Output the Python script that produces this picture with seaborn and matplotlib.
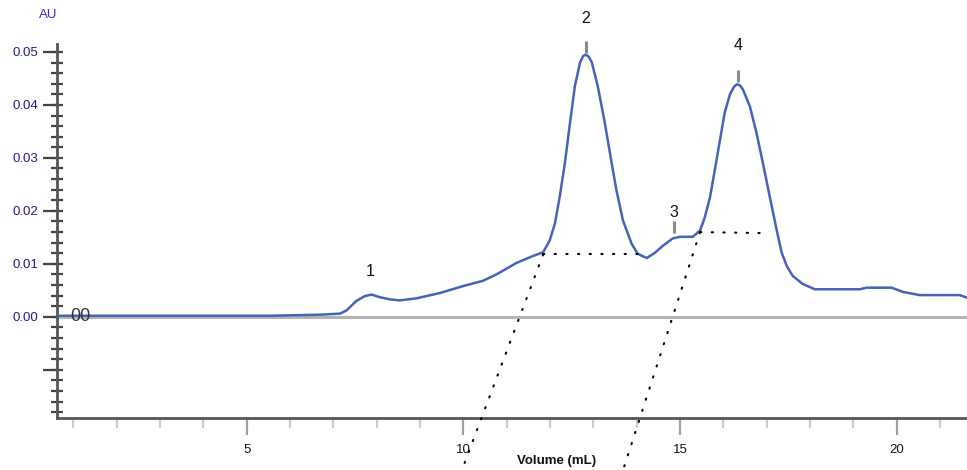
import numpy as np
import pandas as pd
import matplotlib
matplotlib.use("Agg")
import matplotlib.pyplot as plt
import seaborn as sns
from matplotlib.ticker import MultipleLocator, FixedLocator

# ---- data ----
volume_ml = [0.62, 2.0, 3.92, 5.5, 6.69, 7.15, 7.30, 7.53, 7.72, 7.88, 8.07, 8.30, 8.53,
             8.92, 9.46, 9.99, 10.45, 10.76, 11.23, 11.61, 11.84, 11.99, 12.11, 12.22,
             12.34, 12.46, 12.57, 12.69, 12.76, 12.82, 12.89, 12.96, 13.10, 13.26, 13.42,
             13.53, 13.68, 13.88, 14.02, 14.23, 14.42, 14.60, 14.83, 14.99, 15.29, 15.46,
             15.57, 15.69, 15.80, 15.92, 16.03, 16.15, 16.24, 16.31, 16.38, 16.45, 16.61,
             16.76, 16.91, 17.07, 17.23, 17.34, 17.46, 17.60, 17.83, 18.11, 19.15, 19.30,
             19.88, 20.14, 20.53, 21.46, 21.62]
absorbance = [0.0002, 0.0002, 0.0002, 0.0002, 0.0004, 0.0006, 0.0012, 0.0030, 0.0039,
              0.0042, 0.0037, 0.0033, 0.0031, 0.0035, 0.0045, 0.0058, 0.0068, 0.0080,
              0.0102, 0.0115, 0.0122, 0.0144, 0.0176, 0.0226, 0.0290, 0.0367, 0.0435,
              0.0480, 0.0492, 0.0495, 0.0491, 0.0481, 0.0435, 0.0367, 0.0290, 0.0239,
              0.0182, 0.0138, 0.0119, 0.0111, 0.0121, 0.0134, 0.0148, 0.0151, 0.0151,
              0.0163, 0.0188, 0.0226, 0.0277, 0.0334, 0.0386, 0.0420, 0.0434, 0.0439,
              0.0437, 0.0429, 0.0397, 0.0348, 0.0290, 0.0226, 0.0163, 0.0122, 0.0096,
              0.0077, 0.0062, 0.0052, 0.0052, 0.0055, 0.0055, 0.0047, 0.0041, 0.0041,
              0.0036]

peak_labels = ["1", "2", "3", "4"]
peak_x = [7.85, 12.82, 14.85, 16.33]
label_y = [0.0085, 0.0563, 0.0196, 0.0512]
mark_x = [12.82, 14.85, 16.33]
mark_y = [0.0510, 0.0170, 0.0454]

# integration guide lines (dotted)
guide_h = [([11.84, 14.07], [0.0118, 0.0118]), ([15.46, 16.99], [0.0160, 0.0158])]
guide_d = [([11.84, 9.96], [0.0118, -0.0290]), ([15.46, 13.68], [0.0160, -0.0290])]

x_major = [5, 10, 15, 20]
x_minor = [1, 2, 3, 4, 6, 7, 8, 9, 11, 12, 13, 14, 16, 17, 18, 19, 21]
y_major = [-0.01, 0.0, 0.01, 0.02, 0.03, 0.04, 0.05]
y_labels = ["", "0.00", "0.01", "0.02", "0.03", "0.04", "0.05"]

df = pd.DataFrame({"Volume (mL)": volume_ml, "AU": absorbance})

sns.set_style("white")
plt.rcParams["font.family"] = ["Liberation Sans", "DejaVu Sans"]

fig = plt.figure(figsize=(9.67, 4.70), dpi=100)
ax = fig.add_axes([57 / 967, 1 - 418 / 470, 1 - 57 / 967, (418 - 44) / 470])

ax.axhline(0, color="#b4b4b4", lw=2.2, zorder=1)
sns.lineplot(data=df, x="Volume (mL)", y="AU", ax=ax, color="#4563b8", lw=1.8,
             zorder=3, sort=False)

for xs, ys in guide_h + guide_d:
    ax.plot(xs, ys, color="black", lw=1.5, ls=(0, (0.6, 5.0)), dash_capstyle="round",
            clip_on=False, zorder=4)

ax.plot(mark_x, mark_y, ls="none", marker="|", ms=9, mew=2.2, color="#8a8a8a",
        clip_on=False, zorder=4)
for lab, px, py in zip(peak_labels, peak_x, label_y):
    ax.text(px, py, lab, ha="center", va="center", fontsize=11.5, color="#111111",
            clip_on=False)

ax.text(1.15, 0.0, "00", ha="center", va="center", fontsize=13, color="#333333",
        zorder=5)

ax.set_xlim(0.62, 21.62)
ax.set_ylim(-0.0191, 0.0515)

for s in ["top", "right"]:
    ax.spines[s].set_visible(False)
for s in ["left", "bottom"]:
    ax.spines[s].set_color("#555555")
    ax.spines[s].set_linewidth(2.0)

# x ticks
ax.xaxis.set_major_locator(FixedLocator(x_major))
ax.xaxis.set_minor_locator(FixedLocator(x_minor))
ax.set_xticklabels([str(v) for v in x_major])
ax.tick_params(axis="x", which="both", bottom=True)
ax.tick_params(axis="x", which="major", direction="out", length=12, width=1.6,
               color="#a0a0a0", pad=6.5, labelsize=9.5, labelcolor="#111111")
ax.tick_params(axis="x", which="minor", direction="out", length=7, width=1.6,
               color="#cccccc")
for t in ax.xaxis.get_major_ticks():
    if t.get_loc() == 5:
        t.tick1line.set_color("#555555")
for t in ax.xaxis.get_minor_ticks():
    if t.get_loc() < 5:
        t.tick1line.set_color("#555555")

# y ticks
ax.yaxis.remove_overlapping_locs = False
ax.yaxis.set_major_locator(FixedLocator(y_major))
ax.set_yticklabels(y_labels)
ax.yaxis.set_minor_locator(MultipleLocator(0.002))
ax.tick_params(axis="y", which="both", left=True)
ax.tick_params(axis="y", which="major", direction="out", length=10, width=1.6,
               color="#444444", pad=3.5, labelsize=9.5, labelcolor="#1c1c8c")
ax.tick_params(axis="y", which="minor", direction="inout", length=8, width=1.6,
               color="#444444")

ax.set_xlabel("")
ax.set_ylabel("")
ax.text((557 - 57) / 910, (418 - 461) / 374, "Volume (mL)", transform=ax.transAxes,
        ha="center", va="center", fontsize=9.5, fontweight="bold", color="#111111")
fig.text(48 / 967, 1 - 15 / 470, "AU", ha="center", va="center", fontsize=9.5,
         color="#2a2ae0")

fig.savefig("out.png", dpi=100)
